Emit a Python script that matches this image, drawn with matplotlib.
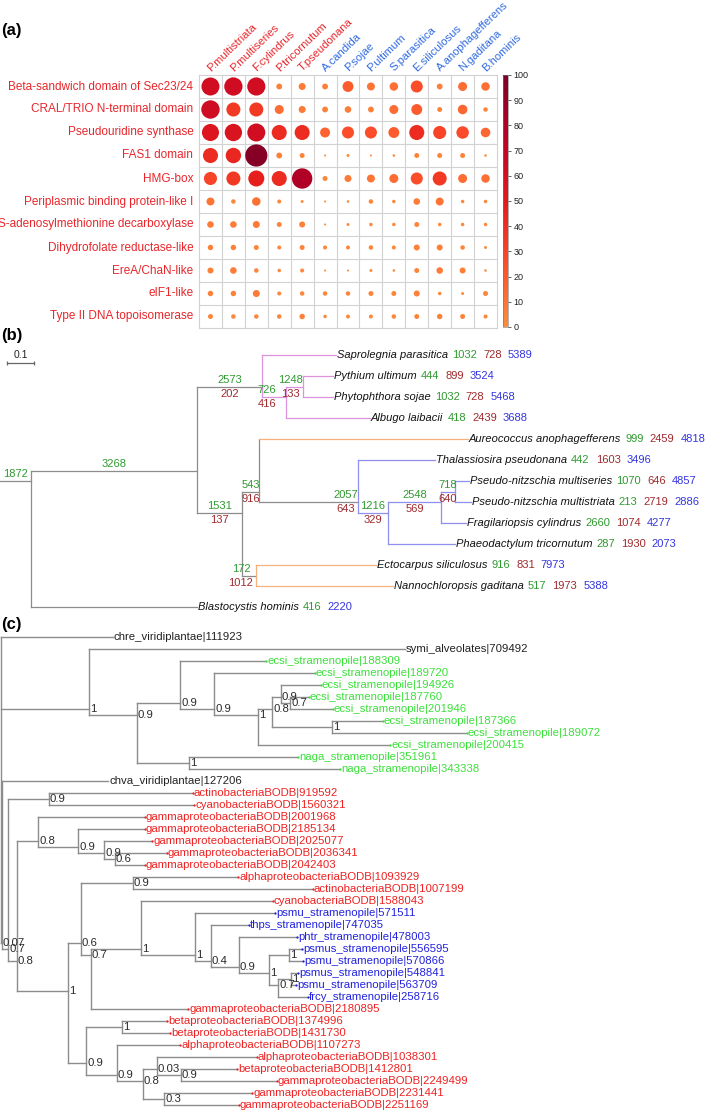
import numpy as np
import matplotlib
matplotlib.use("Agg")
import matplotlib.pyplot as plt
from matplotlib.colors import ListedColormap, Normalize
from matplotlib.cm import ScalarMappable

plt.rcParams['font.family'] = ['Liberation Sans', 'DejaVu Sans']

W, H = 709, 1113

# ---------------- panel (a): domain enrichment dot plot ----------------
domains = ["Beta-sandwich domain of Sec23/24", "CRAL/TRIO N-terminal domain",
           "Pseudouridine synthase", "FAS1 domain", "HMG-box",
           "Periplasmic binding protein-like I", "S-adenosylmethionine decarboxylase",
           "Dihydrofolate reductase-like", "EreA/ChaN-like", "eIF1-like",
           "Type II DNA topoisomerase"]
species = ["P.multistriata", "P.multiseries", "F.cylindrus", "P.tricornutum", "T.pseudonana",
           "A.candida", "P.sojae", "P.ultimum", "S.parasitica", "E.siliculosus",
           "A.anophagefferens", "N.gaditana", "B.hominis"]
n_diatoms = 5
pct = np.array([
    [61, 63, 62, 5, 7.5, 5, 20, 10, 11.5, 25, 5, 13, 11.5],
    [64, 35, 35, 13, 7.5, 5, 6.5, 5, 13, 20, 3.5, 15, 2.8],
    [54, 56, 61, 41, 41, 16.5, 25, 25, 20, 41, 30, 27, 15],
    [41, 43, 97, 5, 3.5, 0.5, 1.1, 0.5, 0.8, 3.5, 3.5, 3.5, 0.8],
    [30, 35, 47, 41, 80, 3.5, 7.5, 10, 13, 25, 35, 13, 11.5],
    [10, 2.8, 11.5, 2.2, 1.1, 0.5, 0.8, 2.8, 1.6, 6.5, 10, 1.6, 1.6],
    [6.5, 6.5, 7.5, 3.5, 5.3, 0.5, 1.1, 1.6, 1.6, 3.5, 1.6, 1.6, 1.6],
    [4.3, 4.3, 3.5, 2.2, 3.5, 2.2, 2.2, 2.8, 2.2, 5.3, 5.3, 2.8, 1.1],
    [5.3, 6.5, 2.8, 1.6, 2.2, 0.5, 0.5, 1.1, 0.8, 3.5, 6.5, 5.3, 0.8],
    [4.3, 4.3, 7.5, 2.2, 2.8, 2.8, 2.8, 3.5, 3.5, 5.3, 1.6, 1.1, 3.5],
    [3.5, 2.8, 2.8, 2.8, 4.3, 1.6, 2.2, 2.2, 2.8, 3.5, 4.3, 3.5, 2.2],
])
cbar_ticks = list(range(0, 101, 10))

# ---------------- panel (b): species tree with gene counts ----------------
b_nodes = ["r", "A", "O", "O2", "O3", "S", "S1", "D", "D1", "D2", "D3", "E"]
b_node_parent = [None, "r", "A", "O", "O2", "A", "S", "S1", "D", "D1", "D2", "S"]
b_node_x = [31, 197, 262, 286, 303, 242, 259, 358, 388, 441, 455, 256]
b_node_green = [1872, 3268, 2573, 726, 1248, 1531, 543, 2057, 1216, 2548, 718, 172]
b_node_red = [None, None, 202, 416, 133, 137, 916, 643, 329, 569, 640, 1012]

b_tips = ["Saprolegnia parasitica", "Pythium ultimum", "Phytophthora sojae", "Albugo laibacii",
          "Aureococcus anophagefferens", "Thalassiosira pseudonana",
          "Pseudo-nitzschia multiseries", "Pseudo-nitzschia multistriata",
          "Fragilariopsis cylindrus", "Phaeodactylum tricornutum",
          "Ectocarpus siliculosus", "Nannochloropsis gaditana", "Blastocystis hominis"]
b_tip_parent = ["O", "O3", "O3", "O2", "S1", "D", "D3", "D3", "D2", "D1", "E", "E", "r"]
b_tip_x = [336, 333, 333, 370, 468, 435, 469, 471, 466, 455, 376, 393, 197]
b_tip_green = [1032, 444, 1032, 418, 999, 442, 1070, 213, 2660, 287, 916, 517, 416]
b_tip_red = [728, 899, 728, 2439, 2459, 1603, 646, 2719, 1074, 1930, 831, 1973, None]
b_tip_blue = [5389, 3524, 5468, 3688, 4818, 3496, 4857, 2886, 4277, 2073, 7973, 5388, 2220]

# ---------------- panel (c): gene tree with support values ----------------
c_nodes = ["R", "C1", "C1a", "C1b", "C1c", "C1d", "C1e", "C1f", "C1g", "C1h", "C1i",
           "N007", "N07", "A1", "N08", "G1", "G2", "G3", "G4",
           "B1", "B2", "B3", "B4", "B5", "B6", "B7", "B8", "B9", "B10", "B11", "B12",
           "P1", "P2", "P3", "P4", "P5", "P6", "P7"]
c_node_parent = [None, "R", "C1", "C1a", "C1b", "C1c", "C1d", "C1e", "C1f", "C1e", "C1a",
                 "R", "N007", "N07", "N07", "N08", "G1", "G2", "G3",
                 "N08", "B1", "B2", "B2", "B4", "B5", "B6", "B7", "B8", "B9", "B9", "B11",
                 "B1", "P1", "P1", "P3", "P4", "P5", "P4"]
c_node_x = [0.5, 89, 137, 180, 214, 258, 272, 281, 290, 332, 189,
            1.5, 8, 49, 17, 38, 78, 104, 115,
            68, 81, 133, 91, 141, 195, 211, 239, 269, 289, 278, 291,
            86, 122, 117, 143, 157, 181, 164]
c_node_support = ["", "1", "0.9", "0.9", "0.9", "1", "0.8", "0.9", "0.7", "1", "1",
                  "0.07", "0.7", "0.9", "0.8", "0.8", "0.9", "0.9", "0.6",
                  "1", "0.6", "0.9", "0.7", "1", "1", "0.4", "0.9", "1", "1", "0.7", "1",
                  "0.9", "1", "0.9", "0.8", "0.03", "0.9", "0.3"]

c_tips = ["chre_viridiplantae|111923", "symi_alveolates|709492",
          "ecsi_stramenopile|188309", "ecsi_stramenopile|189720", "ecsi_stramenopile|194926",
          "ecsi_stramenopile|187760", "ecsi_stramenopile|201946", "ecsi_stramenopile|187366",
          "ecsi_stramenopile|189072", "ecsi_stramenopile|200415",
          "naga_stramenopile|351961", "naga_stramenopile|343338",
          "chva_viridiplantae|127206",
          "actinobacteriaBODB|919592", "cyanobacteriaBODB|1560321",
          "gammaproteobacteriaBODB|2001968", "gammaproteobacteriaBODB|2185134",
          "gammaproteobacteriaBODB|2025077", "gammaproteobacteriaBODB|2036341",
          "gammaproteobacteriaBODB|2042403",
          "alphaproteobacteriaBODB|1093929", "actinobacteriaBODB|1007199",
          "cyanobacteriaBODB|1588043",
          "psmu_stramenopile|571511", "thps_stramenopile|747035", "phtr_stramenopile|478003",
          "psmus_stramenopile|556595", "psmu_stramenopile|570866",
          "psmus_stramenopile|548841", "psmu_stramenopile|563709", "frcy_stramenopile|258716",
          "gammaproteobacteriaBODB|2180895",
          "betaproteobacteriaBODB|1374996", "betaproteobacteriaBODB|1431730",
          "alphaproteobacteriaBODB|1107273", "alphaproteobacteriaBODB|1038301",
          "betaproteobacteriaBODB|1412801", "gammaproteobacteriaBODB|2249499",
          "gammaproteobacteriaBODB|2231441", "gammaproteobacteriaBODB|2251169"]
c_tip_parent = ["R", "C1", "C1b", "C1c", "C1f", "C1g", "C1g", "C1h", "C1h", "C1d",
                "C1i", "C1i", "N007", "A1", "A1", "G1", "G2", "G3", "G4", "G4",
                "B3", "B3", "B5", "B6", "B7", "B8", "B10", "B10", "B12", "B12", "B11",
                "B4", "P2", "P2", "P3", "P5", "P6", "P6", "P7", "P7"]
c_tip_x = [113, 405, 266, 315, 321, 309, 333, 383, 467, 390, 298, 340, 108,
           193, 194, 145, 145, 152, 167, 145, 238, 313, 273,
           275, 249, 297, 302, 303, 298, 296, 308,
           188, 167, 170, 180, 257, 237, 277, 252, 239]
c_tip_group = ["k", "k"] + ["g"] * 10 + ["k"] + ["r"] * 10 + ["b"] * 8 + ["r"] * 9

# ---------------- styling ----------------
RED_LBL = "#e8262b"
BLUE_LBL = "#2f6ae0"
BR_GRAY = "#8c8c8c"
G_NUM, R_NUM, B_NUM = "#2f9a2f", "#a02a2e", "#3434e0"
C_COL = {"k": "#222222", "g": "#3be03b", "r": "#ee2222", "b": "#2222dd"}
clade_col = {"O": "#dc92dc", "D": "#8f8ff0", "E": "#f6b07c"}
tip_col = {4: "#f6b07c"}

cmap = ListedColormap(plt.cm.YlOrRd(np.linspace(0.5, 1.0, 256)))
norm = Normalize(0, 100)

fig = plt.figure(figsize=(W / 100, H / 100), dpi=100)
rend = fig.canvas.get_renderer()


def px_axes(x0, y0, x1, y1):
    ax = fig.add_axes([x0 / W, 1 - y1 / H, (x1 - x0) / W, (y1 - y0) / H])
    ax.set_axis_off()
    ax.patch.set_visible(False)
    return ax


# ---- (a)
ax_a = px_axes(199, 75, 497, 328)
ax_a.set_xlim(0, len(species))
ax_a.set_ylim(len(domains), 0)
for j in range(len(species) + 1):
    ax_a.plot([j, j], [0, len(domains)], color="#d2d2d2", lw=0.8, clip_on=False)
for i in range(len(domains) + 1):
    ax_a.plot([0, len(species)], [i, i], color="#d2d2d2", lw=0.8, clip_on=False)
jj, ii = np.meshgrid(np.arange(len(species)), np.arange(len(domains)))
diam_px = 22.5 * (pct / 100.0) ** 0.45
ax_a.scatter(jj.ravel() + 0.5, ii.ravel() + 0.5, s=(0.72 * diam_px.ravel()) ** 2,
             c=pct.ravel(), cmap=cmap, norm=norm, edgecolors="none", clip_on=False, zorder=3)
for i, d in enumerate(domains):
    ax_a.text(-0.25, i + 0.5, d, ha="right", va="center", fontsize=8.5, color=RED_LBL)
for j, s in enumerate(species):
    ax_a.text(j + 0.52, -0.15, s, rotation=44, rotation_mode="anchor", ha="left",
              va="baseline", fontsize=8.1, color=RED_LBL if j < n_diatoms else BLUE_LBL)

cax = px_axes(503, 75, 508, 327)
cax.set_axis_on()
cb = fig.colorbar(ScalarMappable(norm=norm, cmap=cmap), cax=cax, ticks=cbar_ticks)
cb.outline.set_linewidth(0.4)
cb.outline.set_edgecolor("#777777")
cax.tick_params(labelsize=6.5, length=2, width=0.5, colors="#222222", pad=2)


# ---- tree helpers
def build(nodes, node_parent, node_x, tip_parent, tip_x):
    parent = dict(zip(nodes, node_parent))
    x = dict(zip(nodes, node_x))
    kids = {n: [] for n in nodes}
    for n, p in zip(nodes, node_parent):
        if p is not None:
            kids[p].append(n)
    for i, (p, tx) in enumerate(zip(tip_parent, tip_x)):
        parent[i] = p
        x[i] = tx
        kids[p].append(i)

    def leaves(n):
        if isinstance(n, int):
            return [n]
        out = []
        for k in kids[n]:
            out += leaves(k)
        return out

    y = {n: float(np.mean(leaves(n))) for n in x}
    return parent, x, y, kids


def draw_tree(ax, parent, x, y, kids, hcol, vcol, lw):
    for n in x:
        p = parent[n]
        if p is not None:
            ax.plot([x[p], x[n]], [y[n], y[n]], color=hcol(n), lw=lw, clip_on=False)
        if not isinstance(n, int):
            cy = [y[k] for k in kids[n]]
            ax.plot([x[n], x[n]], [min(cy), max(cy)], color=vcol(n), lw=lw, clip_on=False)


def chain(ax, x0, y0, pieces, fs):
    xd = x0
    for s, c, st, gap in pieces:
        t = ax.text(xd, y0, s, color=c, style=st, fontsize=fs, ha="left", va="center")
        bb = t.get_window_extent(renderer=rend)
        xd = ax.transData.inverted().transform((bb.x1 + gap, bb.y0))[0]


# ---- (b)
b_y0, b_dy = 355, 21
ax_b = px_axes(0, 338, W, 616)
ax_b.set_xlim(0, W)
ax_b.set_ylim((616 - b_y0) / b_dy, (338 - b_y0) / b_dy)
bp, bx, by, bk = build(b_nodes, b_node_parent, b_node_x, b_tip_parent, b_tip_x)


def b_hcol(n):
    if n in tip_col:
        return tip_col[n]
    p = bp[n]
    while p is not None:
        if p in clade_col:
            return clade_col[p]
        p = bp[p]
    return BR_GRAY


def b_vcol(n):
    p = n
    while p is not None:
        if p in clade_col:
            return clade_col[p]
        p = bp[p]
    return BR_GRAY


draw_tree(ax_b, bp, bx, by, bk, b_hcol, b_vcol, 0.9)
ax_b.plot([0, bx["r"]], [by["r"], by["r"]], color=BR_GRAY, lw=0.9)

label_shift = {"O2": -7, "O3": -4, "D": 37, "E": -8}
for n, g, rd in zip(b_nodes, b_node_green, b_node_red):
    x_par = bx[bp[n]] if bp[n] is not None else 0
    xm = (x_par + bx[n]) / 2 + label_shift.get(n, 0)
    ax_b.text(xm, by[n] - 0.08, str(g), color=G_NUM, fontsize=8, ha="center", va="bottom")
    if rd is not None:
        ax_b.text(xm, by[n] + 0.1, str(rd), color=R_NUM, fontsize=8, ha="center", va="top")

for i, name in enumerate(b_tips):
    pieces = [(name, "#111111", "italic", 4), (str(b_tip_green[i]), G_NUM, "normal", 6)]
    if b_tip_red[i] is not None:
        pieces.append((str(b_tip_red[i]), R_NUM, "normal", 6))
    pieces.append((str(b_tip_blue[i]), B_NUM, "normal", 6))
    chain(ax_b, b_tip_x[i] + 1, i, pieces, 8)

# scale bar
px_per_unit = 270
scale_len = 0.1
sb_y = (363 - b_y0) / b_dy
ax_b.plot([7, 7 + scale_len * px_per_unit], [sb_y, sb_y], color="#666666", lw=0.9,
          marker="|", ms=3, mew=0.9)
ax_b.text(7 + scale_len * px_per_unit / 2, sb_y - 0.15, "0.1", fontsize=7.5,
          ha="center", va="bottom", color="#222222")

# ---- (c)
c_y0, c_dy = 637, 12
ax_c = px_axes(0, 626, W, H)
ax_c.set_xlim(0, W)
ax_c.set_ylim((H - c_y0) / c_dy, (626 - c_y0) / c_dy)
cp, cx, cy, ck = build(c_nodes, c_node_parent, c_node_x, c_tip_parent, c_tip_x)
draw_tree(ax_c, cp, cx, cy, ck, lambda n: BR_GRAY, lambda n: BR_GRAY, 1.0)
for n, s in zip(c_nodes, c_node_support):
    if s:
        ax_c.text(cx[n] + 1, cy[n], s, fontsize=8.2, color="#2a2a2a", ha="left", va="center")
for i, name in enumerate(c_tips):
    col = C_COL[c_tip_group[i]]
    if c_tip_group[i] != "k":
        ax_c.plot([c_tip_x[i]], [i], "o", ms=1.6, color=col, mew=0)
    ax_c.text(c_tip_x[i] + 1, i, name, fontsize=8.2, color=col, ha="left", va="center")

# panel letters
for lab, ypx in [("(a)", 30), ("(b)", 336), ("(c)", 625)]:
    fig.text(1 / W, 1 - ypx / H, lab, fontsize=12, fontweight="bold", ha="left", va="center")

fig.savefig("out.png", dpi=100)
